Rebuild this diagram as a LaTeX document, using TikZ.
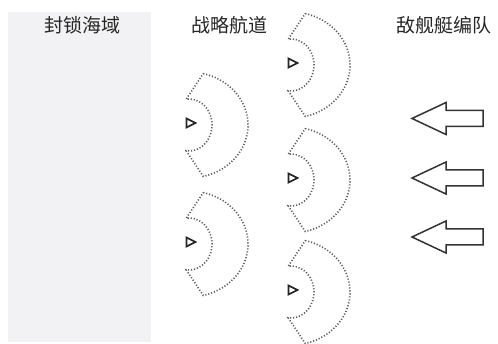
\documentclass[tikz,border=0pt]{standalone}
\usepackage{fontspec}
\newfontfamily\cjk{Noto Sans CJK SC}
\definecolor{zonegray}{HTML}{F2F2F4}
\definecolor{dotgray}{HTML}{5A5A5A}
\tikzset{
  dotline/.style={draw=dotgray, line width=1.6pt, dash pattern=on 1.1pt off 1.9pt},
  shipmark/.style={draw=black!85, line width=1.7pt, line join=miter},
  blockarrow/.style={draw=black!80, line width=1.5pt, fill=white, line join=miter},
  lbl/.style={font=\cjk\fontsize{19}{22}\selectfont, text=black!85, inner sep=0pt},
  sector/.pic={
    \draw[dotline] (12.3,-49.4) arc[start angle=-76, end angle=76, x radius=59, y radius=53]
      -- (-4.8,27.8) arc[start angle=97, end angle=-97, x radius=23, y radius=26] -- cycle;
    \draw[shipmark] (-4.5,-4.5) -- (4.5,0) -- (-4.5,4.5) -- cycle;
  }
}
\begin{document}
\begin{tikzpicture}[x=1pt, y=-1pt]
  \useasboundingbox (0,0) rectangle (498,344);
  \fill[white] (0,0) rectangle (498,344);
  \fill[zonegray] (8,12) rectangle (151,342);
  \node[lbl] (zone) at (82,25) {封锁海域};
  \node[lbl] (lane) at (229,25) {战略航道};
  \node[lbl] (fleet) at (444,25) {敌舰艇编队};
  \pic at (191,123) {sector};
  \pic at (191,242) {sector};
  \pic at (293,63) {sector};
  \pic at (293,178) {sector};
  \pic at (293,290) {sector};
  \foreach \y in {118.5,178,237}{
    \draw[blockarrow] (412,\y) -- (446,\y-16) -- (446,\y-8) -- (483,\y-8)
      -- (483,\y+8) -- (446,\y+8) -- (446,\y+16) -- cycle;
  }
\end{tikzpicture}
\end{document}
